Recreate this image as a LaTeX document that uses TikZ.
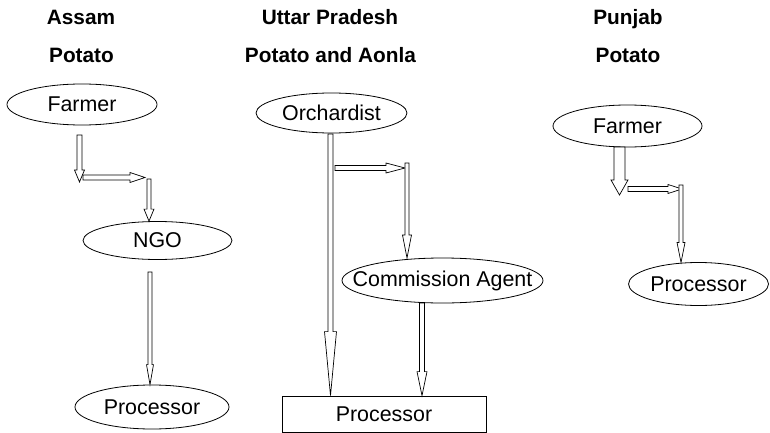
\documentclass[tikz,border=0pt]{standalone}
\usepackage{fontspec}
\setmainfont{Liberation Sans}
\usetikzlibrary{shapes.geometric,calc}

\tikzset{
  labelfont/.style={font=\fontsize{21.4}{25}\selectfont},
  oval/.style={draw, ellipse, inner sep=0pt, line width=0.8pt, labelfont},
  plainbox/.style={draw, rectangle, inner sep=0pt, line width=0.8pt, labelfont},
  heading/.style={anchor=base, inner sep=0pt, font=\bfseries\fontsize{20.8}{24}\selectfont},
  hollow/.style={draw=black, fill=white, line width=0.7pt, line join=miter},
}

% Label of zero width, so an oval keeps the size given by its minimum width.
\newcommand\ovaltext[1]{\makebox[0pt]{#1}}

% Hollow block arrow pointing down from #1 to the level of #2.
% #3 shaft half width, #4 head half width, #5 head length (pt).
\newcommand\blockdown[5]{%
  \draw[hollow] let \p1=(#1), \p2=(#2) in
    (\x1-#3pt,\y1) -- (\x1-#3pt,\y2+#5pt) -- (\x1-#4pt,\y2+#5pt) -- (\x1,\y2)
    -- (\x1+#4pt,\y2+#5pt) -- (\x1+#3pt,\y2+#5pt) -- (\x1+#3pt,\y1) -- cycle;}

% Hollow block arrow pointing right from #1 to the column of #2.
\newcommand\blockright[5]{%
  \draw[hollow] let \p1=(#1), \p2=(#2) in
    (\x1,\y1+#3pt) -- (\x2-#5pt,\y1+#3pt) -- (\x2-#5pt,\y1+#4pt) -- (\x2,\y1)
    -- (\x2-#5pt,\y1-#4pt) -- (\x2-#5pt,\y1-#3pt) -- (\x1,\y1-#3pt) -- cycle;}

\begin{document}
\begin{tikzpicture}[x=1pt, y=-1pt]
  \useasboundingbox (0,0) rectangle (770,433);

  % column headings
  \node[heading] (hAssam)  at (81,25)    {Assam};
  \node[heading] (cAssam)  at (81.5,62.7) {Potato};
  \node[heading] (hUP)     at (330,25)   {Uttar Pradesh};
  \node[heading] (cUP)     at (330.5,62.7) {Potato and Aonla};
  \node[heading] (hPunjab) at (628,25)   {Punjab};
  \node[heading] (cPunjab) at (628,62.7) {Potato};

  % Assam chain
  \node[oval, minimum width=150pt, minimum height=41pt] (farmerA) at (82,104.5) {\ovaltext{Farmer}};
  \node[oval, minimum width=149pt, minimum height=38pt] (ngo)     at (157.5,240.5) {\ovaltext{NGO}};
  \node[oval, minimum width=154pt, minimum height=44pt] (procA)   at (152,407) {\ovaltext{Processor}};

  % Uttar Pradesh chain
  \node[oval, minimum width=151pt, minimum height=40pt] (orch)  at (331.5,113) {\ovaltext{Orchardist}};
  \node[oval, minimum width=201pt, minimum height=45pt] (agent) at (442.5,280.5) {\ovaltext{Commission Agent}};
  \node[plainbox, minimum width=204pt, minimum height=36pt] (procU) at (384,414) {Processor};

  % Punjab chain
  \node[oval, minimum width=149pt, minimum height=42pt] (farmerP) at (627.5,126) {\ovaltext{Farmer}};
  \node[oval, minimum width=140pt, minimum height=43pt] (procP)   at (698.5,284) {\ovaltext{Processor}};

  % arrow end points
  \coordinate (a1s) at (79.5,135);
  \coordinate (a1e) at (79.5,182);
  \coordinate (a2s) at (83,177.5);
  \coordinate (a2e) at (145,177.5);
  \coordinate (a3s) at (149,179);
  \coordinate (a3e) at (a3s |- ngo.north);
  \coordinate (a4s) at (150,272);
  \coordinate (a4e) at (a4s |- procA.north);

  \coordinate (u1s) at (330.5,134);
  \coordinate (u1e) at (u1s |- procU.north);
  \coordinate (u2s) at (335,168);
  \coordinate (u2e) at (405,168);
  \coordinate (u3s) at (407,163);
  \coordinate (u3e) at (407,258);
  \coordinate (u4s) at (422,303);
  \coordinate (u4e) at (u4s |- procU.north);

  \coordinate (p1s) at (619.5,147);
  \coordinate (p1e) at (619.5,195);
  \coordinate (p2s) at (628,189);
  \coordinate (p2e) at (682,189);
  \coordinate (p3s) at (681,185);
  \coordinate (p3e) at (681,262.5);

  % Assam arrows
  \blockdown{a1s}{a1e}{2.5}{5}{12}
  \blockright{a2s}{a2e}{2.5}{5}{15}
  \blockdown{a3s}{a3e}{2}{5}{12}
  \blockdown{a4s}{a4e}{2}{3.5}{20}

  % Uttar Pradesh arrows
  \blockdown{u1s}{u1e}{2.5}{6}{64}
  \blockright{u2s}{u2e}{2.5}{5}{19}
  \blockdown{u3s}{u3e}{2}{4.5}{23}
  \blockdown{u4s}{u4e}{2.5}{5}{24}

  % Punjab arrows
  \blockdown{p1s}{p1e}{5.5}{8.5}{15}
  \blockright{p2s}{p2e}{2.5}{4.5}{14}
  \blockdown{p3s}{p3e}{2}{4}{20}
\end{tikzpicture}
\end{document}
